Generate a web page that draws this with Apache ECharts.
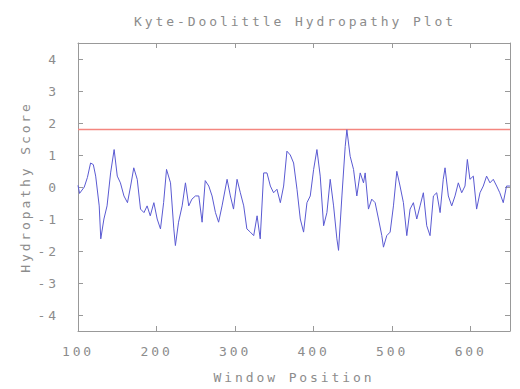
<!DOCTYPE html>
<html>
	<head>
		<meta charset="utf-8">
		<title></title>
		<style type="text/css">
			* {
				margin: 0;
				padding: 0;
			}

			#kd {
				width: 520px;
				height: 389px;
			}

			#kd text {
				letter-spacing: 2.9px;
			}
		</style>
		<script src="https://cdn.jsdelivr.net/npm/echarts@6/dist/echarts.min.js"></script>
	</head>
	<body>
		<div id="kd"></div>
	</body>
	<script type="text/javascript">
		// window positions and hydropathy scores
		var positions = [100, 102, 108, 112, 116, 119.5, 122.5, 127, 129, 133, 137, 141.5, 146, 150, 154, 158.5, 163, 167, 171, 175.4, 179.6, 184, 188, 192, 196.6, 200.8, 205, 209, 212.7, 217.8, 222, 224, 228, 232.6, 236.8, 241, 245, 249.5, 253.8, 258, 262, 266.5, 270.7, 275, 279, 283.4, 289.8, 294, 298, 302.5, 306.7, 311, 315, 319.4, 323.7, 328, 332, 336.4, 340.6, 344.9, 349, 353.3, 357.6, 361.8, 366, 370.3, 374.5, 378.8, 383, 387.2, 391.5, 395.7, 400, 404.2, 408.4, 412.7, 416.9, 421.1, 425.4, 429.6, 431.7, 436, 440.2, 442.3, 446.5, 450.8, 455, 459.3, 463.5, 465.6, 469.8, 474, 478.3, 482.6, 486.8, 488.9, 493.1, 497.4, 501.6, 505.9, 510, 514.3, 518.6, 522.8, 527, 531.3, 535.5, 539.7, 544, 548.2, 552.5, 556.7, 561, 565, 567.3, 571.5, 575.8, 580, 584.2, 588.5, 592.7, 595.7, 599, 603.3, 607.5, 611.8, 616, 620.2, 624.5, 628.7, 633, 637, 641.4, 645.6, 649.9];
		var scores = [0.05, -0.2, 0.0, 0.3, 0.75, 0.7, 0.34, -0.59, -1.62, -1.0, -0.59, 0.44, 1.17, 0.34, 0.13, -0.28, -0.49, 0.03, 0.6, 0.24, -0.69, -0.8, -0.59, -0.9, -0.49, -1.0, -1.31, -0.49, 0.55, 0.13, -1.31, -1.83, -1.1, -0.59, 0.13, -0.59, -0.38, -0.28, -0.28, -1.1, 0.2, 0.03, -0.28, -0.8, -1.1, -0.59, 0.24, -0.28, -0.69, 0.24, -0.18, -0.59, -1.31, -1.41, -1.52, -0.9, -1.62, 0.44, 0.44, 0.03, -0.18, -0.07, -0.49, 0.03, 1.12, 1.0, 0.75, -0.07, -1.0, -1.41, -0.49, -0.28, 0.55, 1.17, 0.34, -1.21, -0.8, 0.24, -0.59, -1.62, -1.98, -0.28, 1.27, 1.79, 0.96, 0.55, -0.28, 0.44, 0.13, 0.44, -0.69, -0.38, -0.49, -1.0, -1.52, -1.88, -1.52, -1.41, -0.59, 0.49, 0.03, -0.49, -1.52, -0.69, -0.49, -1.0, -0.59, -0.18, -1.21, -1.52, -0.28, -0.18, -0.8, 0.24, 0.6, -0.28, -0.59, -0.28, 0.13, -0.18, 0.03, 0.86, 0.24, 0.34, -0.69, -0.18, 0.03, 0.34, 0.13, 0.24, 0.03, -0.18, -0.49, 0.03, 0.03];
		var threshold = 1.8;
		var xRange = [100, 650];
		var xTicks = [100, 200, 300, 400, 500, 600];
		var yTicks = [-4, -3, -2, -1, 0, 1, 2, 3, 4];

		var chart = echarts.init(document.getElementById('kd'), null, {
			renderer: 'svg'
		});

		var grey = '#999';
		var font = {
			fontFamily: 'DejaVu Sans Mono',
			fontSize: 13,
			color: '#8c8c8c'
		};

		var pts = [];
		for (var i = 0; i < positions.length; i++) {
			pts.push([positions[i], scores[i]]);
		}

		function frameAxis(pos, ticks, showLabel) {
			return {
				position: pos,
				axisLine: { show: true, onZero: false, lineStyle: { color: grey, width: 1 } },
				axisTick: { show: true, inside: true, length: 5, customValues: ticks, lineStyle: { color: grey } },
				axisLabel: { show: showLabel, customValues: ticks },
				splitLine: { show: false }
			};
		}

		var xBottom = frameAxis('bottom', xTicks, true);
		xBottom.type = 'value';
		xBottom.min = xRange[0];
		xBottom.max = xRange[1];
		xBottom.name = 'Window Position';
		xBottom.nameLocation = 'middle';
		xBottom.nameGap = 40;
		xBottom.nameTextStyle = font;
		xBottom.axisLabel = Object.assign({ margin: 14 }, font, { customValues: xTicks });

		var xTop = frameAxis('top', xTicks, false);
		xTop.type = 'value';
		xTop.min = xRange[0];
		xTop.max = xRange[1];

		var yLeft = frameAxis('left', yTicks, true);
		yLeft.type = 'value';
		yLeft.min = -4.5;
		yLeft.max = 4.5;
		yLeft.name = 'Hydropathy Score';
		yLeft.nameLocation = 'middle';
		yLeft.nameGap = 45;
		yLeft.nameTextStyle = font;
		yLeft.axisLabel = Object.assign({ margin: 19 }, font, { customValues: yTicks });

		var yRight = frameAxis('right', yTicks, false);
		yRight.type = 'value';
		yRight.min = -4.5;
		yRight.max = 4.5;

		option = {
			animation: false,
			backgroundColor: '#fff',
			title: {
				text: 'Kyte-Doolittle Hydropathy Plot',
				left: 290,
				textAlign: 'center',
				top: 10,
				textStyle: Object.assign({ fontWeight: 'normal' }, font)
			},
			grid: {
				left: 78,
				right: 10,
				top: 43,
				bottom: 54
			},
			xAxis: [xBottom, xTop],
			yAxis: [yLeft, yRight],
			series: [{
				// threshold line
				type: 'line',
				data: [[xRange[0], threshold], [xRange[1], threshold]],
				showSymbol: false,
				silent: true,
				itemStyle: { color: '#f4867f' },
				lineStyle: { color: '#f4867f', width: 1.5 }
			}, {
				type: 'line',
				data: pts,
				showSymbol: false,
				lineStyle: { color: '#5a5ad2', width: 1 }
			}]
		};

		chart.setOption(option);
	</script>
</html>
